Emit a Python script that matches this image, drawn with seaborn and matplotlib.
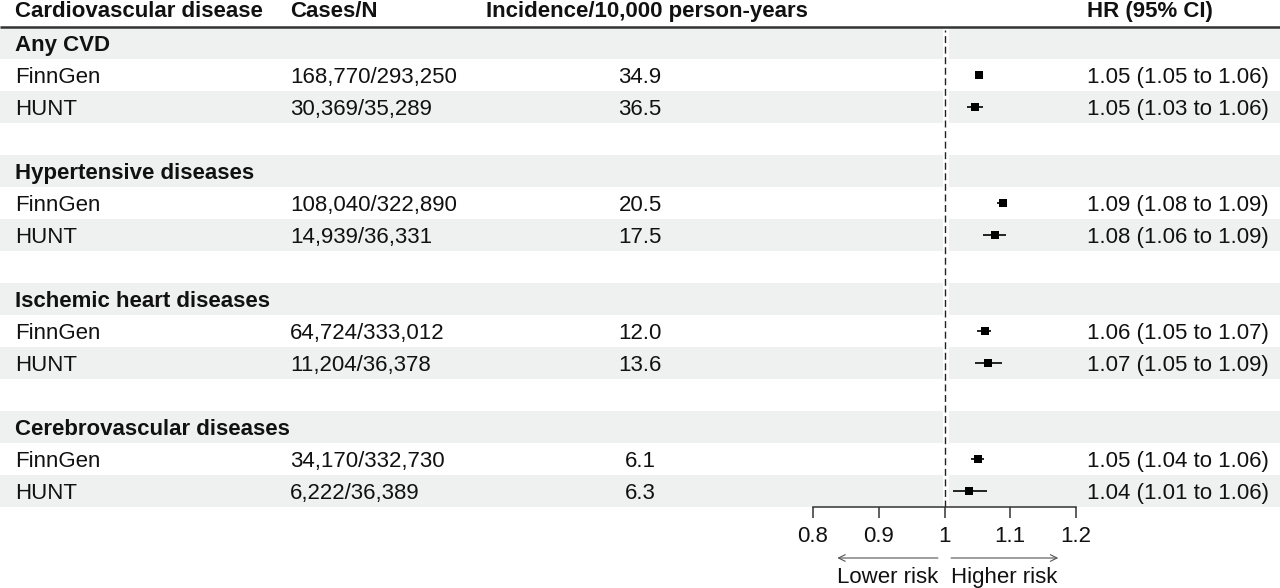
import numpy as np
import pandas as pd
import matplotlib
matplotlib.use("Agg")
import matplotlib.pyplot as plt
from matplotlib.patches import Rectangle
import seaborn as sns

# ---------------- data ----------------
headers = ["Cardiovascular disease", "Cases/N", "Incidence/10,000 person-years", "HR (95% CI)"]
groups = ["Any CVD", "Hypertensive diseases", "Ischemic heart diseases", "Cerebrovascular diseases"]
cohorts = ["FinnGen", "HUNT"]
cases_n = ["168,770/293,250", "30,369/35,289",
           "108,040/322,890", "14,939/36,331",
           "64,724/333,012", "11,204/36,378",
           "34,170/332,730", "6,222/36,389"]
incidence = ["34.9", "36.5", "20.5", "17.5", "12.0", "13.6", "6.1", "6.3"]
hr = [1.052, 1.046, 1.089, 1.077, 1.061, 1.066, 1.051, 1.038]
ci_low = [1.046, 1.034, 1.080, 1.059, 1.050, 1.046, 1.040, 1.013]
ci_high = [1.059, 1.059, 1.094, 1.093, 1.071, 1.087, 1.060, 1.064]
hr_text = ["1.05 (1.05 to 1.06)", "1.05 (1.03 to 1.06)",
           "1.09 (1.08 to 1.09)", "1.08 (1.06 to 1.09)",
           "1.06 (1.05 to 1.07)", "1.07 (1.05 to 1.09)",
           "1.05 (1.04 to 1.06)", "1.04 (1.01 to 1.06)"]
x_ticks = [0.8, 0.9, 1.0, 1.1, 1.2]
x_tick_labels = ["0.8", "0.9", "1", "1.1", "1.2"]
direction_labels = ["Lower risk", "Higher risk"]

# ---------------- style ----------------
sns.set_style("white")
plt.rcParams["font.family"] = ["Liberation Sans", "DejaVu Sans"]
FS = 16
TXT = "#111111"
BAND = "#eff1f0"

W, H = 1280, 588
TOP, ROW_H = 27, 32

# build row layout
rows = []
for g_i, g in enumerate(groups):
    rows.append(("group", g, None))
    for c_i, c in enumerate(cohorts):
        rows.append(("data", c, g_i * len(cohorts) + c_i))
    if g_i < len(groups) - 1:
        rows.append(("blank", "", None))
n_rows = len(rows)

fig = plt.figure(figsize=(W / 100, H / 100), dpi=100)
bg = fig.add_axes([0, 0, 1, 1])
bg.set_xlim(0, W)
bg.set_ylim(H, 0)
bg.axis("off")

# zebra bands
for i in range(n_rows):
    if i % 2 == 0:
        bg.axhspan(TOP + i * ROW_H, TOP + (i + 1) * ROW_H, color=BAND, lw=0, zorder=0)
bg.add_patch(Rectangle((943, TOP), 6, n_rows * ROW_H, color="white", lw=0, zorder=1))

# header
col_x = [15, 290, 486, 1087]
for x, h in zip(col_x, headers):
    bg.text(x, 17, h, fontsize=FS, fontweight="bold", color=TXT, ha="left", va="baseline")
bg.plot([0, W], [TOP, TOP], color="#333333", lw=1.8, solid_capstyle="butt", zorder=2)

# table body
data_rows = []
for i, (kind, label, k) in enumerate(rows):
    yb = TOP + i * ROW_H + ROW_H / 2 + 7.8
    if kind == "group":
        bg.text(15, yb, label, fontsize=FS, fontweight="bold", color=TXT, ha="left", va="baseline")
    elif kind == "data":
        data_rows.append(i)
        bg.text(15, yb, label, fontsize=FS, color=TXT, ha="left", va="baseline")
        bg.text(290, yb, cases_n[k], fontsize=FS, color=TXT, ha="left", va="baseline")
        bg.text(640, yb, incidence[k], fontsize=FS, color=TXT, ha="center", va="baseline")
        bg.text(1087, yb, hr_text[k], fontsize=FS, color=TXT, ha="left", va="baseline")

# ---------------- forest ----------------
X0, X1 = 813, 1076
bottom_px = TOP + n_rows * ROW_H
ax = fig.add_axes([X0 / W, (H - bottom_px) / H, (X1 - X0) / W, (n_rows * ROW_H) / H])
ax.set_facecolor("none")

df = pd.DataFrame({"row": data_rows, "hr": hr, "lo": ci_low, "hi": ci_high})
ax.hlines(df["row"], df["lo"], df["hi"], color="black", lw=1.2, zorder=3)
sns.scatterplot(data=df, x="hr", y="row", marker="s", s=32, color="black",
                linewidth=0, ax=ax, zorder=4, legend=False)

ax.set_xlim(0.8, 1.2)
ax.set_ylim(n_rows - 0.5, -0.5)
ax.axvline(1.0, ymin=0, ymax=(bottom_px - 30) / (n_rows * ROW_H), color="#222222",
           lw=1.0, linestyle=(0, (5, 2.6)), zorder=2)

ax.set_xlabel("")
ax.set_ylabel("")
ax.set_yticks([])
ax.set_xticks(x_ticks)
ax.set_xticklabels(x_tick_labels, fontsize=FS, color=TXT)
ax.tick_params(axis="x", bottom=True, length=8, width=1.1, color="#333333", pad=6, direction="out")
for s in ["left", "top", "right"]:
    ax.spines[s].set_visible(False)
ax.spines["bottom"].set_color("#333333")
ax.spines["bottom"].set_linewidth(1.1)

# direction arrows
arrow_y = H - 558
arr = dict(arrowstyle="->", color="#555555", lw=0.8, mutation_scale=12, shrinkA=0, shrinkB=0)
ax.annotate("", xy=(0.837, arrow_y), xytext=(0.99, arrow_y),
            xycoords=("data", "figure pixels"), textcoords=("data", "figure pixels"),
            arrowprops=arr, annotation_clip=False)
ax.annotate("", xy=(1.173, arrow_y), xytext=(1.01, arrow_y),
            xycoords=("data", "figure pixels"), textcoords=("data", "figure pixels"),
            arrowprops=arr, annotation_clip=False)
ax.annotate(direction_labels[0], xy=(0.913, H - 583.3), xycoords=("data", "figure pixels"),
            ha="center", va="baseline", fontsize=FS, color=TXT, annotation_clip=False)
ax.annotate(direction_labels[1], xy=(1.091, H - 583.3), xycoords=("data", "figure pixels"),
            ha="center", va="baseline", fontsize=FS, color=TXT, annotation_clip=False)

fig.savefig("out.png", dpi=100)
